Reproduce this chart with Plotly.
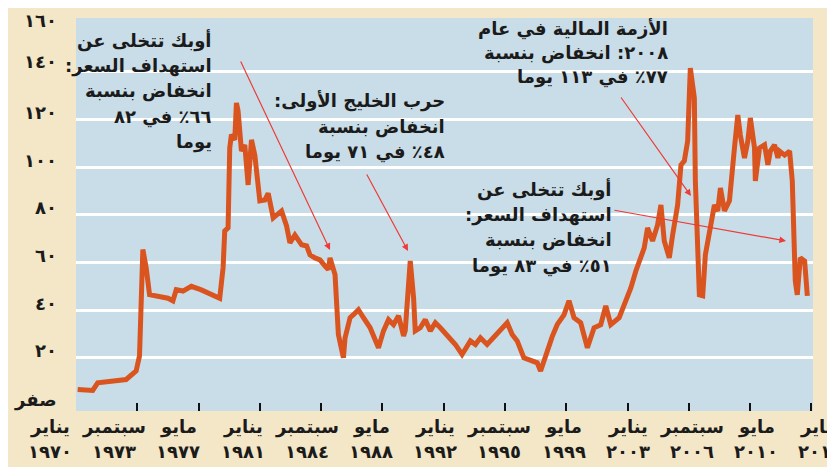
import plotly.graph_objects as go

# ---- data ----
years = [1970.1, 1971.0, 1971.3, 1972.5, 1973.0, 1973.6, 1973.8, 1974.0, 1974.2, 1974.4,
         1974.9, 1975.5, 1975.8, 1976.0, 1976.4, 1976.9, 1977.5, 1978.1, 1978.6, 1978.8,
         1978.9, 1979.1, 1979.2, 1979.3, 1979.5, 1979.6, 1979.7, 1979.9, 1980.1, 1980.3,
         1980.5, 1980.7, 1981.0, 1981.3, 1981.5, 1981.8, 1982.0, 1982.3, 1982.6, 1982.8,
         1983.1, 1983.5, 1983.8, 1984.0, 1984.3, 1984.6, 1984.9, 1985.1, 1985.2, 1985.5,
         1985.7, 1985.8, 1986.0, 1986.1, 1986.4, 1986.6, 1986.9, 1987.2, 1987.6, 1988.1,
         1988.4, 1988.7, 1989.0, 1989.3, 1989.6, 1989.7, 1989.9, 1990.0, 1990.2, 1990.3,
         1990.6, 1990.9, 1991.2, 1991.5, 1991.8, 1992.2, 1992.7, 1993.1, 1993.6, 1993.9,
         1994.2, 1994.6, 1995.0, 1995.3, 1995.8, 1996.1, 1996.4, 1996.8, 1997.2, 1997.6,
         1997.8, 1998.1, 1998.5, 1998.8, 1999.2, 1999.5, 1999.8, 2000.2, 2000.6, 2001.0,
         2001.4, 2001.7, 2002.0, 2002.5, 2002.9, 2003.2, 2003.5, 2003.7, 2004.0, 2004.2,
         2004.5, 2004.8, 2005.0, 2005.2, 2005.5, 2005.7, 2006.0, 2006.2, 2006.4, 2006.6,
         2006.76, 2007.0, 2007.06, 2007.3, 2007.5, 2007.66, 2008.0, 2008.2, 2008.4, 2008.56,
         2008.8, 2009.1, 2009.4, 2009.6, 2009.75, 2010.0, 2010.2, 2010.35, 2010.6, 2010.65,
         2010.9, 2011.2, 2011.4, 2011.55, 2011.8, 2012.0, 2012.1, 2012.4, 2012.7, 2012.86,
         2013.04, 2013.16, 2013.34, 2013.6, 2013.76]
prices = [6.7, 6.3, 9.5, 10.5, 10.9, 14.5, 20.8, 65.4, 57.7, 46.5,
          46.0, 45.0, 43.9, 48.6, 48.0, 50.0, 48.5, 46.4, 45.0, 57.7,
          73.2, 74.5, 108.0, 113.6, 111.4, 126.9, 123.5, 106.7, 109.3, 92.5,
          111.4, 105.0, 85.8, 86.2, 89.0, 78.7, 80.0, 81.6, 75.3, 68.2,
          71.5, 67.4, 66.9, 63.2, 61.9, 61.1, 58.5, 57.0, 61.9, 54.9,
          29.8, 27.1, 20.0, 28.4, 36.8, 38.1, 40.2, 36.8, 32.6, 24.2,
          31.3, 36.0, 33.9, 37.6, 29.2, 31.3, 54.9, 60.6, 45.1, 31.3,
          32.6, 36.0, 31.3, 34.7, 32.6, 29.8, 25.6, 21.4, 27.1, 25.6,
          28.4, 25.6, 28.4, 30.5, 34.7, 29.8, 27.1, 20.0, 18.7, 17.9,
          14.5, 21.4, 29.0, 34.0, 38.0, 43.9, 36.8, 34.7, 24.2, 32.6,
          33.9, 41.8, 33.9, 36.8, 43.9, 49.3, 56.4, 60.6, 66.1, 74.5,
          69.0, 75.7, 84.1, 69.0, 61.9, 71.5, 84.1, 100.9, 102.6, 110.9,
          141.5, 129.0, 94.2, 46.4, 46.0, 63.2, 75.7, 84.1, 81.6, 91.2,
          81.6, 85.8, 108.0, 121.8, 113.5, 103.8, 110.9, 120.6, 108.0, 94.2,
          108.0, 109.3, 100.9, 106.7, 109.3, 103.8, 106.7, 105.0, 106.7, 94.2,
          52.2, 46.4, 61.9, 60.6, 46.0]

y_tick_values = [0, 20, 40, 60, 80, 100, 120, 140, 160]
y_tick_labels = ["صفر", "٢٠", "٤٠", "٦٠", "٨٠", "١٠٠", "١٢٠", "١٤٠", "١٦٠"]
grid_values = [20, 40, 60, 80, 100, 120, 140]

x_tick_values = [1970.0, 1973.667, 1977.333, 1981.0, 1984.667, 1988.333, 1992.0,
                 1995.667, 1999.333, 2003.0, 2006.667, 2010.333, 2014.0]
x_tick_months = ["يناير", "سبتمبر", "مايو", "يناير", "سبتمبر", "مايو", "يناير",
                 "سبتمبر", "مايو", "يناير", "سبتمبر", "مايو", "يناير"]
x_tick_years = ["١٩٧٠", "١٩٧٣", "١٩٧٧", "١٩٨١", "١٩٨٤", "١٩٨٨", "١٩٩٢",
                "١٩٩٥", "١٩٩٩", "٢٠٠٣", "٢٠٠٦", "٢٠١٠", "٢٠١٤"]

notes = [
    ["أوبك تتخلى عن", "استهداف السعر:", "انخفاض بنسبة", "٦٦٪ في ٨٢", "يوما"],
    ["حرب الخليج الأولى:", "انخفاض بنسبة", "٤٨٪ في ٧١ يوما"],
    ["الأزمة المالية في عام", "٢٠٠٨: انخفاض بنسبة", "٧٧٪ في ١١٣ يوما"],
    ["أوبك تتخلى عن", "استهداف السعر:", "انخفاض بنسبة", "٥١٪ في ٨٣ يوما"],
]

# ---- styling / layout ----
W, H = 835, 467
L, R, T, B = 68, 30, 10, 64
PW, PH = W - L - R, H - T - B
FONT = "DejaVu Sans"
INK = "#1b1b1b"
ORANGE = "#d9541e"
ARROW = "#ee3b36"
FS = 18
VSHIFT = 9    # compensation for the Arabic glyph baseline
HSHIFT = -6   # compensation for right-anchored Arabic text

RLM = "\u200f"


def px_x(p):
    return (p - L) / PW


def px_y(p):
    return (H - B - p) / PH


def label(txt, x, y, size=FS, anchor="right"):
    return dict(text="<b>" + RLM + txt + RLM + "</b>", xref="paper", yref="paper",
                x=px_x(x), y=px_y(y), xanchor=anchor, yanchor="middle",
                yshift=VSHIFT, xshift=HSHIFT if anchor == "right" else 0,
                showarrow=False, font=dict(family=FONT, size=size, color=INK))


fig = go.Figure()
fig.add_trace(go.Scatter(x=years, y=prices, mode="lines",
                         line=dict(color=ORANGE, width=5), hoverinfo="skip",
                         showlegend=False))
fig.add_trace(go.Scatter(x=[years[0]], y=[prices[0]], yaxis="y2", mode="lines",
                         line=dict(width=0), showlegend=False, hoverinfo="skip"))

annotations = []
# note texts: right edge and first-line centre, line step
note_pos = [(212, 42, 25.2), (445, 102, 25.5), (668, 30, 24.2), (612, 190, 25.6)]
for lines, (rx, y0, step) in zip(notes, note_pos):
    for k, ln in enumerate(lines):
        annotations.append(label(ln, rx, y0 + k * step))

# arrows (head, tail) in pixels
arrows = [((322, 242), (232, 52)), ((400, 243), (358, 165)),
          ((683, 188), (612, 88)), ((778, 233), (605, 202))]
for (hx, hy), (tx, ty) in arrows:
    annotations.append(dict(text="", xref="paper", yref="paper",
                            x=px_x(hx), y=px_y(hy), ax=tx - hx, ay=ty - hy,
                            showarrow=True, arrowhead=2, arrowsize=1.1,
                            arrowwidth=1.2, arrowcolor=ARROW))

# y tick labels
y_off = {0: 3, 160: 6, 140: -1}
for v, t in zip(y_tick_values, y_tick_labels):
    py = H - B - (v + 2.3) / (162.5 + 2.3) * PH
    annotations.append(label(t, 57, py + y_off.get(v, 2), size=18))

# x tick labels (two rows)
for i, (m, yv) in enumerate(zip(x_tick_months, x_tick_years)):
    cx = 42 + 64.2 * i
    annotations.append(label(m, cx, 428, anchor="center"))
    annotations.append(label(yv, cx, 452, anchor="center"))

fig.update_layout(
    width=W, height=H,
    margin=dict(l=L, r=R, t=T, b=B, pad=0),
    paper_bgcolor="#f3e7c7",
    plot_bgcolor="#c9dde8",
    xaxis=dict(range=[1970, 2014.1], tickvals=x_tick_values[1:], ticks="inside",
               ticklen=8, tickwidth=2, tickcolor="#111", showticklabels=False,
               showgrid=False, zeroline=False, showline=False, fixedrange=True),
    yaxis=dict(range=[-2.3, 162.5], showticklabels=False, ticks="",
               showgrid=False, zeroline=False, showline=False),
    yaxis2=dict(range=[-2.3, 162.5], overlaying="y", side="left", tickvals=grid_values,
                showticklabels=False, showgrid=True, gridcolor="white", gridwidth=3,
                zeroline=False, showline=False, ticks=""),
    annotations=annotations,
    showlegend=False,
)

fig.write_html("out.html")
